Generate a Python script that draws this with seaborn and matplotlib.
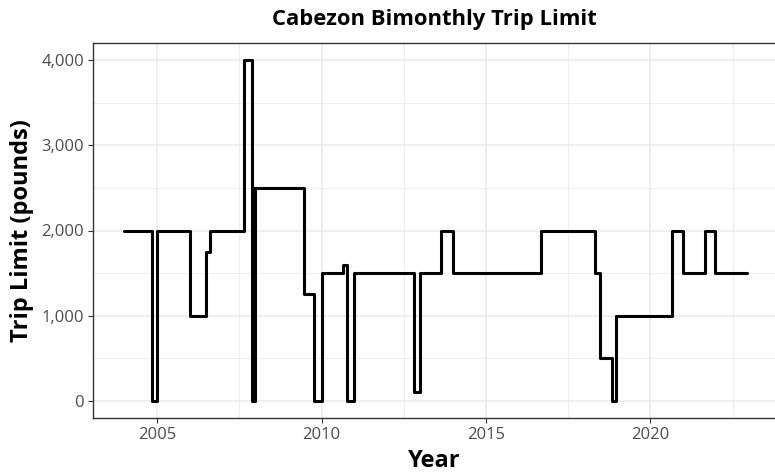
import matplotlib
matplotlib.use("Agg")
import matplotlib.pyplot as plt
import seaborn as sns
import pandas as pd

# step change points (decimal year) and the trip limit in effect from then on
change_year = [2004.0, 2004.83, 2005.0, 2006.0, 2006.5, 2006.6, 2007.65, 2007.88,
               2007.92, 2007.95, 2007.98, 2009.47, 2009.76, 2010.0, 2010.64, 2010.78,
               2010.98, 2012.8, 2012.98, 2013.64, 2014.0, 2016.68, 2018.32, 2018.47,
               2018.83, 2018.96, 2020.65, 2020.99, 2021.65, 2021.97, 2022.95]
trip_limit = [2000, 0, 2000, 1000, 1750, 2000, 4000, 0,
              2500, 0, 2500, 1250, 0, 1500, 1600, 0,
              1500, 100, 1500, 2000, 1500, 2000, 1500, 500,
              0, 1000, 2000, 1500, 2000, 1500, 1500]
year_ticks = [2005, 2010, 2015, 2020]
limit_ticks = [0, 1000, 2000, 3000, 4000]
limit_labels = ["0", "1,000", "2,000", "3,000", "4,000"]

df = pd.DataFrame({"year": change_year, "limit": trip_limit})

sns.set_theme(style="whitegrid")
plt.rcParams["font.family"] = ["Open Sans", "DejaVu Sans"]

fig = plt.figure(figsize=(7.75, 4.75), dpi=100)
ax = fig.add_axes([93 / 775, 1 - 418 / 475, (775 - 93) / 775, (418 - 43) / 475])

sns.lineplot(x="year", y="limit", data=df, drawstyle="steps-post", color="black",
             linewidth=2.2, estimator=None, ax=ax)

ax.set_xlim(2003.05, 2023.79)
ax.set_ylim(-200, 4200)
ax.set_xticks(year_ticks)
ax.set_xticks([2007.5, 2012.5, 2017.5, 2022.5], minor=True)
ax.set_yticks(limit_ticks)
ax.set_yticklabels(limit_labels)
ax.set_yticks([500, 1500, 2500, 3500], minor=True)
ax.grid(True, which="major", color="#EBEBEB", linewidth=1.1)
ax.grid(True, which="minor", color="#EBEBEB", linewidth=0.6)
ax.set_facecolor("white")

for side in ["left", "bottom", "top"]:
    ax.spines[side].set_color("#333333")
    ax.spines[side].set_linewidth(1.0)
ax.spines["right"].set_visible(False)

ax.tick_params(axis="both", which="major", length=3.5, width=0.8, color="#333333",
               labelsize=12, labelcolor="#4D4D4D", pad=3, bottom=True, left=True)
ax.tick_params(axis="both", which="minor", length=0)

ax.set_xlabel("Year", fontsize=17, fontweight="bold", color="black", labelpad=4)
ax.set_ylabel("Trip Limit (pounds)", fontsize=17, fontweight="bold", color="black", labelpad=5)
fig.text((93 + 775) / 2 / 775, 1 - 20 / 475, "Cabezon Bimonthly Trip Limit",
         ha="center", va="center", fontsize=15.8, fontweight="bold", color="black")

fig.savefig("out.png", dpi=100)
